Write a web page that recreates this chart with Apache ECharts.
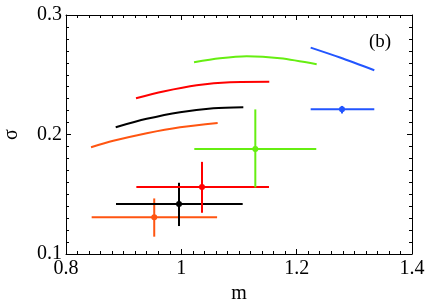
<!DOCTYPE html>
<html>
<head>
<meta charset="utf-8">
<script src="https://cdn.jsdelivr.net/npm/echarts@6/dist/echarts.min.js"></script>
<style>html,body{margin:0;padding:0;background:#fff}#c{width:429px;height:303px}</style>
</head>
<body>
<div id="c"></div>
<script>
// Series names and colours
const seriesNames = ['orange', 'black', 'red', 'green', 'blue'];
const seriesColors = ['#ff5511', '#000000', '#ff0000', '#66ee11', '#2255ff'];

// Curves (m, sigma)
const curveOrange = [[0.8434,0.1894],[0.882,0.1947],[0.9399,0.2011],[0.9977,0.2061],[1.063,0.2097]];
const curveBlack  = [[0.8862,0.2061],[0.9399,0.2131],[0.9977,0.2187],[1.0555,0.222],[1.1075,0.2229]];
const curveRed    = [[0.9214,0.2304],[0.9688,0.236],[1.0266,0.2412],[1.0844,0.2438],[1.1525,0.2442]];
const curveGreen  = [[1.022,0.2605],[1.067,0.2638],[1.1133,0.2655],[1.1711,0.2638],[1.2347,0.2588]];
const curveBlue   = [[1.2243,0.2727],[1.2751,0.2644],[1.3346,0.2538]];

// Error-bar points: [m, sigma, mLow, mHigh, sigmaLow, sigmaHigh]
const pointOrange = [0.953, 0.1307, 0.8445, 1.062, 0.1145, 0.1465];
const pointBlack  = [0.996, 0.1418, 0.8867, 1.1064, 0.1234, 0.1596];
const pointRed    = [1.0358, 0.156, 0.922, 1.152, 0.1345, 0.1771];
const pointGreen  = [1.1283, 0.1878, 1.0225, 1.234, 0.1557, 0.221];
const pointBlue   = [1.2786, 0.2212, 1.2243, 1.3346, 0.2176, 0.2239];

const xTicks = [0.8, 1.0, 1.2, 1.4];
const yTicks = [0.1, 0.2, 0.3];

const curves = [curveOrange, curveBlack, curveRed, curveGreen, curveBlue];
const points = [pointOrange, pointBlack, pointRed, pointGreen, pointBlue];

const font = 'Liberation Serif, Times New Roman, serif';
const chart = echarts.init(document.getElementById('c'));

const series = [];
curves.forEach((c, i) => {
  series.push({
    type: 'line', data: c, smooth: 0.3, symbol: 'none', silent: true,
    lineStyle: { color: seriesColors[i], width: 2 }, z: 3
  });
});
points.forEach((p, i) => {
  const col = seriesColors[i];
  series.push({
    type: 'custom', data: [p], z: 4, silent: true,
    renderItem: function (params, api) {
      const c = api.coord([api.value(0), api.value(1)]);
      const l = api.coord([api.value(2), api.value(1)]);
      const r = api.coord([api.value(3), api.value(1)]);
      const lo = api.coord([api.value(0), api.value(4)]);
      const hi = api.coord([api.value(0), api.value(5)]);
      const st = { stroke: col, lineWidth: 2 };
      return { type: 'group', children: [
        { type: 'line', shape: { x1: l[0], y1: l[1], x2: r[0], y2: r[1] }, style: st },
        { type: 'line', shape: { x1: lo[0], y1: lo[1], x2: hi[0], y2: hi[1] }, style: st },
        { type: 'circle', shape: { cx: c[0], cy: c[1], r: 3 }, style: { fill: col } }
      ]};
    },
    encode: { x: 0, y: 1 }
  });
});

const tickStyle = { color: '#000', width: 1 };
chart.setOption({
  animation: false,
  grid: { left: 66, right: 17, top: 15, bottom: 49, show: false, containLabel: false, outerBoundsMode: 'none' },
  xAxis: [{
    type: 'value', min: xTicks[0], max: xTicks[xTicks.length - 1], interval: 0.2,
    name: 'm', nameLocation: 'middle', nameGap: 26,
    nameTextStyle: { fontFamily: font, fontSize: 20, color: '#000' },
    axisLine: { lineStyle: { color: '#000', width: 1 } },
    axisTick: { inside: true, length: 5, lineStyle: tickStyle },
    minorTick: { show: true, splitNumber: 10, length: 3, lineStyle: tickStyle },
    splitLine: { show: false },
    axisLabel: { fontFamily: font, fontSize: 20, color: '#000', margin: 5,
      formatter: v => String(+v.toFixed(1)) }
  }, {
    type: 'value', position: 'top', min: 0.8, max: 1.4, interval: 0.2,
    axisLine: { show: true, lineStyle: { color: '#000', width: 1 } },
    axisTick: { inside: true, length: 5, lineStyle: tickStyle },
    minorTick: { show: true, splitNumber: 10, length: 3, lineStyle: tickStyle },
    splitLine: { show: false }, axisLabel: { show: false }
  }],
  yAxis: [{
    type: 'value', min: yTicks[0], max: yTicks[yTicks.length - 1], interval: 0.1,
    name: 'σ', nameLocation: 'middle', nameGap: 44, nameRotate: 90,
    nameTextStyle: { fontFamily: font, fontSize: 20, color: '#000' },
    axisLine: { show: true, lineStyle: { color: '#000', width: 1 } },
    axisTick: { inside: true, length: 5, lineStyle: tickStyle },
    minorTick: { show: true, splitNumber: 10, length: 3, lineStyle: tickStyle },
    splitLine: { show: false },
    axisLabel: { fontFamily: font, fontSize: 20, color: '#000', margin: 4,
      formatter: v => String(+v.toFixed(1)) }
  }, {
    type: 'value', position: 'right', min: 0.1, max: 0.3, interval: 0.1,
    axisLine: { show: true, lineStyle: { color: '#000', width: 1 } },
    axisTick: { inside: true, length: 5, lineStyle: tickStyle },
    minorTick: { show: true, splitNumber: 10, length: 3, lineStyle: tickStyle },
    splitLine: { show: false }, axisLabel: { show: false }
  }],
  graphic: [{
    type: 'text', left: 369, top: 33,
    style: { text: '(b)', fontFamily: font, fontSize: 19, fill: '#000' }
  }],
  series: series
});
</script>
</body>
</html>
